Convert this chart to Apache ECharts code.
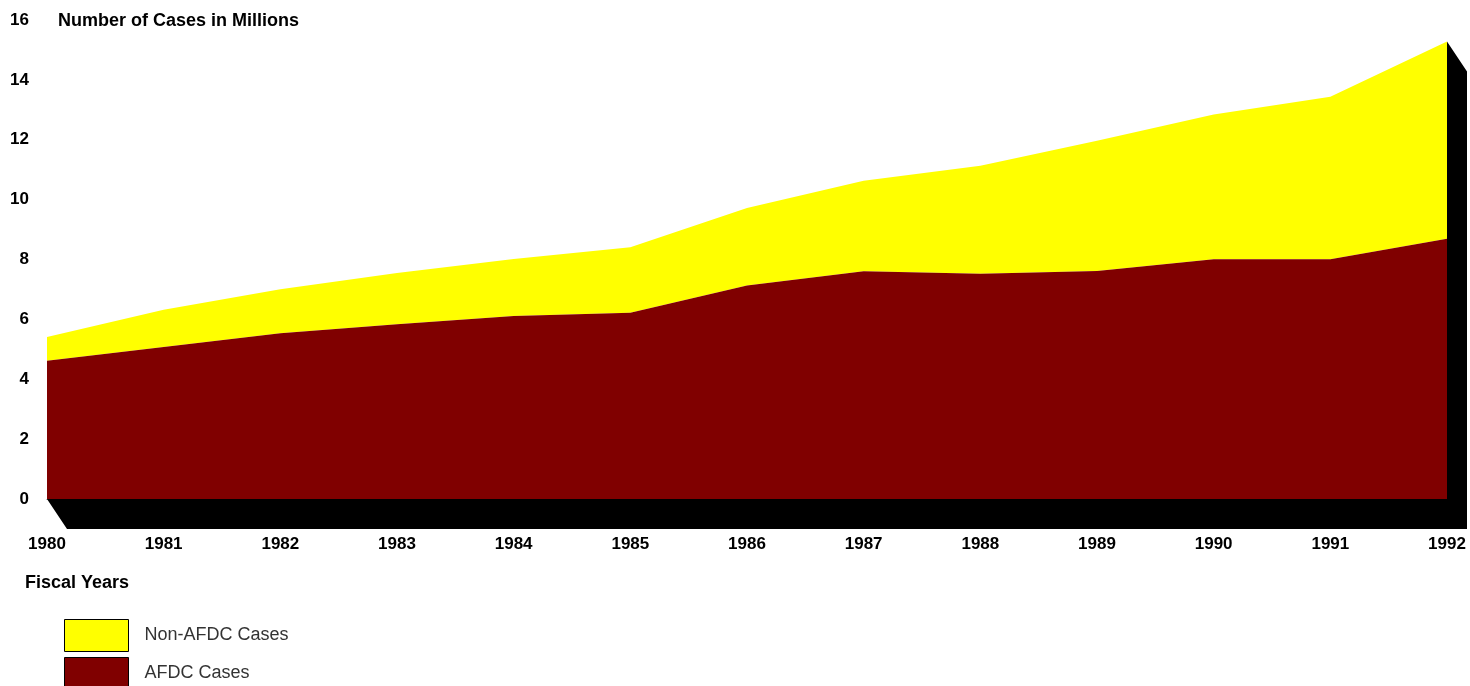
<!DOCTYPE html>
<html>
<head>
<meta charset="utf-8">
<script src="https://cdn.jsdelivr.net/npm/echarts@6/dist/echarts.min.js"></script>
<style>
html,body{margin:0;padding:0;background:#fff;}
#chart{width:1470px;height:686px;}
</style>
</head>
<body>
<div id="chart"></div>
<script>
const years = ['1980','1981','1982','1983','1984','1985','1986','1987','1988','1989','1990','1991','1992'];
const afdcCases = [4.62, 5.08, 5.54, 5.84, 6.11, 6.22, 7.13, 7.61, 7.52, 7.62, 8.01, 8.01, 8.69];
const nonAfdcCases = [0.79, 1.24, 1.47, 1.71, 1.91, 2.19, 2.59, 3.02, 3.61, 4.35, 4.83, 5.43, 6.59];
const yTicks = [0, 2, 4, 6, 8, 10, 12, 14, 16];
const legendNames = ['Non-AFDC Cases', 'AFDC Cases'];

const chart = echarts.init(document.getElementById('chart'), null, {renderer: 'canvas'});
const lastIdx = years.length - 1;
const totalLast = afdcCases[lastIdx] + nonAfdcCases[lastIdx];

const legendBase = {
  orient: 'vertical', left: 64, padding: 0,
  itemWidth: 64, itemHeight: 32, itemGap: 6,
  icon: 'rect',
  itemStyle: {borderColor: '#000', borderWidth: 1},
  lineStyle: {opacity: 0},
  textStyle: {fontFamily: 'Liberation Sans', fontSize: 18, color: '#333', padding: [0, 0, 0, 11]}
};

chart.setOption({
  animation: false,
  backgroundColor: '#fff',
  grid: {left: 47, right: 23, top: 20, bottom: 187, containLabel: false},
  title: [
    {text: 'Number of Cases in Millions', left: 58, top: 12, padding: 0,
     textStyle: {fontFamily: 'Liberation Sans', fontWeight: 'bold', fontSize: 18, color: '#000'}},
    {text: 'Fiscal Years', left: 25, top: 574, padding: 0,
     textStyle: {fontFamily: 'Liberation Sans', fontWeight: 'bold', fontSize: 18, color: '#000'}}
  ],
  legend: [
    Object.assign({}, legendBase, {top: 619, data: [legendNames[0]]}),
    Object.assign({}, legendBase, {top: 657, data: [legendNames[1]]})
  ],
  xAxis: {
    type: 'category', data: years, boundaryGap: false,
    axisLine: {show: true, lineStyle: {color: '#777', width: 1}},
    axisTick: {show: false},
    axisLabel: {margin: 37, fontFamily: 'Liberation Sans', fontWeight: 'bold', fontSize: 17, color: '#000'},
    splitLine: {show: false}
  },
  yAxis: {
    type: 'value', min: yTicks[0], max: yTicks[yTicks.length - 1], interval: 2,
    axisLine: {show: false}, axisTick: {show: false}, splitLine: {show: false},
    axisLabel: {margin: 18, fontFamily: 'Liberation Sans', fontWeight: 'bold', fontSize: 17, color: '#000'}
  },
  series: [
    {
      name: 'Shadow', type: 'custom', silent: true, z: 1,
      data: [[0]],
      renderItem: function (params, api) {
        const dx = 20, dy = 30;
        const A = api.coord([0, 0]);
        const B = api.coord([lastIdx, 0]);
        const T = api.coord([lastIdx, totalLast]);
        return {
          type: 'polygon',
          shape: {points: [A, B, T, [T[0] + dx, T[1] + dy], [B[0] + dx, B[1] + dy], [A[0] + dx, A[1] + dy]]},
          style: {fill: '#000', stroke: null}
        };
      }
    },
    {
      name: 'AFDC Cases', type: 'line', stack: 'cases', data: afdcCases,
      showSymbol: false, symbol: 'none', z: 3,
      lineStyle: {width: 0}, itemStyle: {color: '#800000'},
      areaStyle: {color: '#800000', opacity: 1}
    },
    {
      name: 'Non-AFDC Cases', type: 'line', stack: 'cases', data: nonAfdcCases,
      showSymbol: false, symbol: 'none', z: 2,
      lineStyle: {width: 0}, itemStyle: {color: '#ffff00'},
      areaStyle: {color: '#ffff00', opacity: 1}
    }
  ]
});
</script>
</body>
</html>
